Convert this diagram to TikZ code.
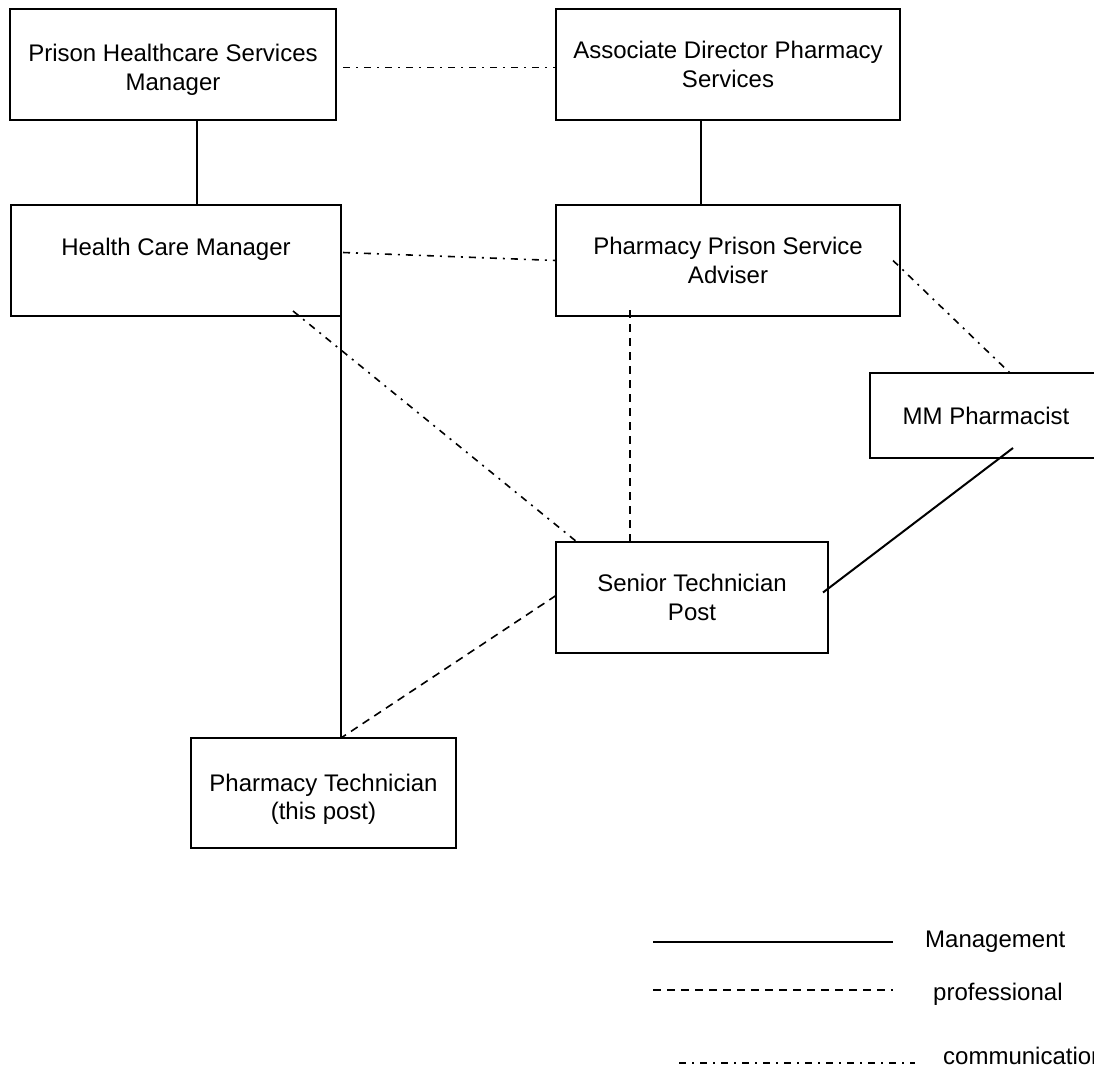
\documentclass[tikz,border=0pt]{standalone}
\usepackage{fontspec}
\setmainfont{Liberation Sans}
\usetikzlibrary{positioning}

\begin{document}
\begin{tikzpicture}[x=1pt, y=-1pt,
    every node/.style={
    align=center, inner sep=0pt, font=\fontsize{24}{28.5}\selectfont},
    box/.style={draw, rectangle, line width=2pt, outer sep=0pt, minimum height=111pt},
    mgmt/.style={line width=2pt},
    prof/.style={line width=1.6pt, dash pattern=on 8pt off 6pt},
    comms/.style={line width=1.6pt, dash pattern=on 7pt off 6pt on 2pt off 6pt}
    ]
    \useasboundingbox (0,0) rectangle (1094,1068);

    \node[box, minimum width=326pt, text height=56pt](healthmgr) at (173,64.5) {Prison Healthcare Services\\Manager};
    \node[box, minimum width=344pt, right=220pt of healthmgr](assocdir) {Associate Director Pharmacy\\Services};
    \node[box, minimum width=344pt, below=85pt of assocdir](adviser) {Pharmacy Prison Service\\Adviser};
    \node[box, minimum width=330pt, text depth=27pt, anchor=north west](hcm) at (11,205) {Health Care Manager};
    \node[box, minimum width=232pt, minimum height=85pt](mmpharm) at (986,415.5) {MM Pharmacist};
    \node[box, minimum width=272pt](senior) at (692,597.5) {Senior Technician\\Post};
    \node[box, minimum width=265pt, minimum height=110pt, text height=58pt](tech) at (323.5,793) {Pharmacy Technician\\(this post)};
    \coordinate (techjoin) at (hcm.south east |- tech.north);

    \draw[mgmt] ([xshift=24pt]healthmgr.south) -- ([xshift=24pt]healthmgr.south |- hcm.north);
    \draw[mgmt] ([xshift=-27pt]assocdir.south) -- ([xshift=-27pt]assocdir.south |- adviser.north);
    \draw[comms] ([shift={(7pt,-3pt)}]healthmgr.east) -- ([yshift=-3pt]assocdir.west);
    \draw[comms] ([shift={(2pt,8pt)}]hcm.east) -- (adviser.west);
    \draw[mgmt] (hcm.south east) -- (techjoin);
    \draw[comms] ([shift={(-48pt,5pt)}]hcm.south east) -- ([xshift=21pt]senior.north west);
    \draw[prof] ([shift={(-98pt,6pt)}]adviser.south) -- ([xshift=-98pt]adviser.south |- senior.north);
    \draw[comms] ([xshift=-7pt]adviser.east) -- ([xshift=24pt]mmpharm.north);
    \draw[mgmt] ([shift={(27pt,10pt)}]mmpharm.south) -- ([shift={(-5pt,5pt)}]senior.east);
    \draw[prof] ([yshift=2pt]senior.west) -- (techjoin);

    \draw[mgmt] (653,942) -- (893,942);
    \node[anchor=base west](lgmgmt) at (925,947) {Management};
    \draw[prof] (653,990) -- (893,990);
    \node[anchor=base west](lgprof) at (933,1000) {professional};
    \draw[comms] (679,1063) -- (915,1063);
    \node[anchor=base west](lgcomms) at (943,1064) {communication};
\end{tikzpicture}
\end{document}
